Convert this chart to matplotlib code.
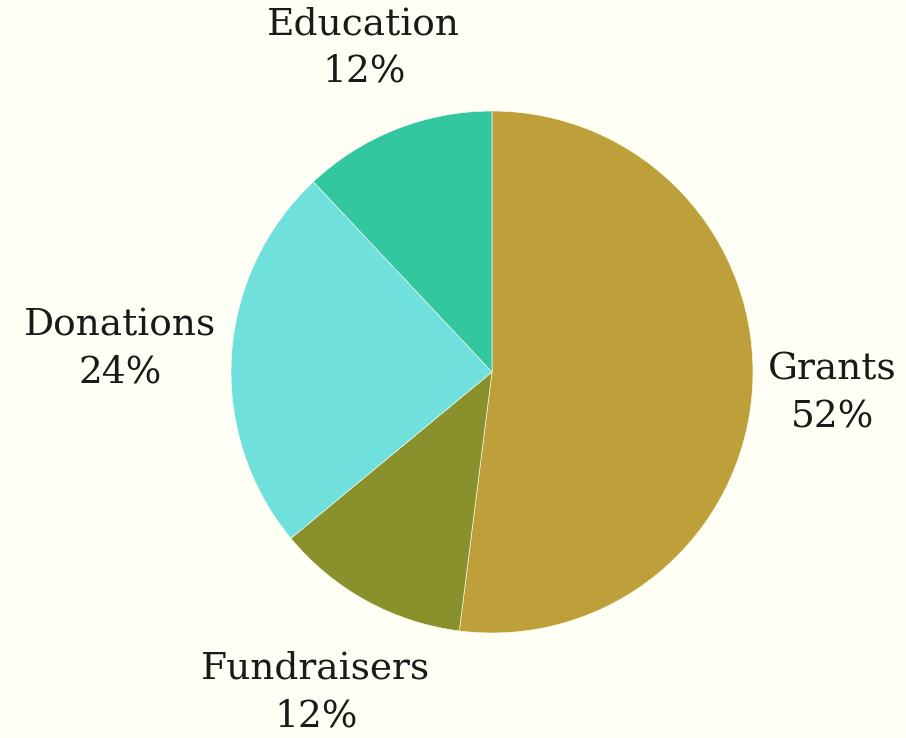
import matplotlib
matplotlib.use("Agg")
import matplotlib.pyplot as plt
import numpy as np

categories = ["Grants", "Fundraisers", "Donations", "Education"]
values = [52, 12, 24, 12]
colors = ["#BDA03A", "#8A912C", "#6FE0DC", "#33C7A0"]
bg = "#FFFFF5"

fig = plt.figure(figsize=(9.06, 7.38), dpi=100, facecolor=bg)
ax = fig.add_axes([0, 0, 1, 1])
ax.set_facecolor(bg)

labels = [f"{c}\n{v}%" for c, v in zip(categories, values)]
wedges, texts = ax.pie(values, labels=labels, colors=colors, startangle=90,
                       counterclock=False, labeldistance=1.06,
                       wedgeprops=dict(edgecolor=bg, linewidth=0.4),
                       textprops=dict(fontsize=27, family="DejaVu Serif",
                                      color="#1a1a1a", linespacing=1.4))

r_px = 261.0
ax.set_xlim(-492 / r_px, (906 - 492) / r_px)
ax.set_ylim(-(738 - 372) / r_px, 372 / r_px)
ax.set_aspect("auto")
ax.axis("off")

fig.canvas.draw()
renderer = fig.canvas.get_renderer()
base = 1.05
for w, t in zip(wedges, texts):
    ang = np.deg2rad((w.theta1 + w.theta2) / 2)
    c, s = np.cos(ang), np.sin(ang)
    t.set_multialignment("center")
    t.set_ha("center")
    t.set_va("center")
    bb = t.get_window_extent(renderer)
    half = abs(c) * bb.width / 2 + abs(s) * bb.height / 2
    d = base + half / r_px
    t.set_position((d * c, d * s))

fig.savefig("out.png", dpi=100, facecolor=bg)
